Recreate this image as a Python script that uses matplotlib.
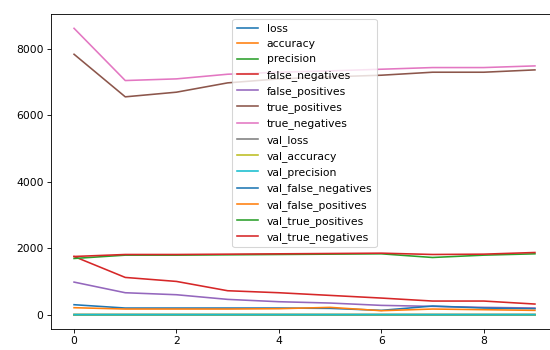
import matplotlib.pyplot as plt

# training history, one value per epoch
epochs = list(range(10))

loss = [0.45, 0.30, 0.27, 0.24, 0.22, 0.21, 0.20, 0.19, 0.18, 0.17]
accuracy = [0.80, 0.87, 0.88, 0.89, 0.90, 0.91, 0.91, 0.92, 0.92, 0.93]
precision = [0.78, 0.86, 0.87, 0.88, 0.89, 0.90, 0.91, 0.91, 0.92, 0.92]
false_negatives = [1750, 1120, 1000, 720, 660, 580, 500, 410, 410, 320]
false_positives = [980, 660, 600, 460, 390, 350, 280, 250, 220, 200]
true_positives = [7830, 6550, 6690, 6970, 7090, 7150, 7200, 7290, 7290, 7360]
true_negatives = [8610, 7040, 7090, 7230, 7290, 7330, 7380, 7430, 7430, 7480]
val_loss = [0.30, 0.26, 0.25, 0.24, 0.24, 0.23, 0.25, 0.22, 0.23, 0.22]
val_accuracy = [0.88, 0.90, 0.90, 0.91, 0.91, 0.91, 0.90, 0.91, 0.91, 0.92]
val_precision = [0.87, 0.90, 0.90, 0.90, 0.91, 0.90, 0.93, 0.89, 0.90, 0.91]
val_false_negatives = [300, 200, 200, 200, 200, 190, 130, 260, 200, 180]
val_false_positives = [210, 170, 170, 170, 180, 220, 120, 170, 150, 130]
val_true_positives = [1690, 1790, 1790, 1800, 1810, 1820, 1830, 1720, 1790, 1830]
val_true_negatives = [1750, 1810, 1810, 1820, 1830, 1840, 1850, 1810, 1820, 1870]

history = {
    'loss': loss,
    'accuracy': accuracy,
    'precision': precision,
    'false_negatives': false_negatives,
    'false_positives': false_positives,
    'true_positives': true_positives,
    'true_negatives': true_negatives,
    'val_loss': val_loss,
    'val_accuracy': val_accuracy,
    'val_precision': val_precision,
    'val_false_negatives': val_false_negatives,
    'val_false_positives': val_false_positives,
    'val_true_positives': val_true_positives,
    'val_true_negatives': val_true_negatives,
}

dpi = 77
fig = plt.figure(figsize=(550 / dpi, 350 / dpi), dpi=dpi)
# the reference is cropped on the right, so the axes run past the edge
ax = fig.add_axes([51 / 550, 21 / 350, 507 / 550, 315 / 350])

for name, values in history.items():
    ax.plot(epochs, values, label=name)

ax.legend(loc='upper center')

fig.savefig('out.png', dpi=dpi)
